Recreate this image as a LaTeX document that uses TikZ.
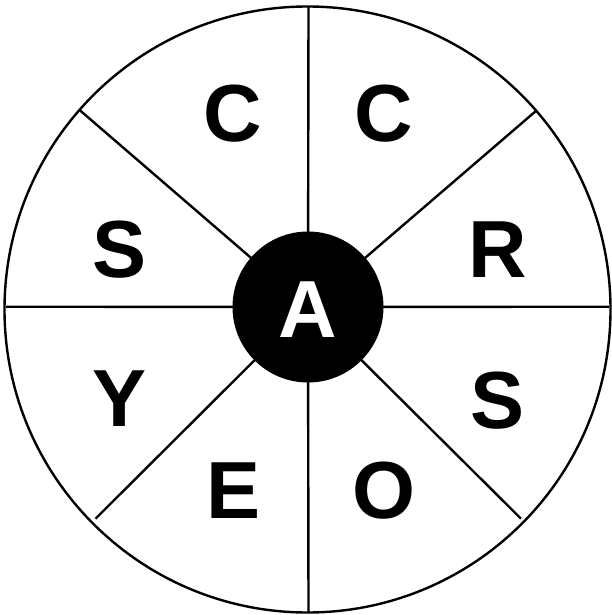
\documentclass[tikz,border=0pt]{standalone}
\usepackage{fontspec}
\setmainfont{Liberation Sans}
\begin{document}
\begin{tikzpicture}[x=1pt,y=-1pt,
  rim/.style={draw=black,line width=2.4pt},
  spoke/.style={draw=black,line width=2.4pt},
  hub/.style={circle,fill=black,draw=none,minimum size=151pt,inner sep=0pt},
  letter/.style={inner sep=0pt,font=\fontsize{81}{81}\selectfont\bfseries}]
\useasboundingbox (0,0) rectangle (611,615);
\fill[white] (0,0) rectangle (611,615);
\coordinate (o) at (307.5,309.5);
\draw[rim] (o) circle[radius=303];
\coordinate (p1) at (308.5,6.5);
\coordinate (p2) at (535.8,111.1);
\coordinate (p3) at (609,306.7);
\coordinate (p4) at (521,518.7);
\coordinate (p5) at (308.5,613);
\coordinate (p6) at (95.5,518.7);
\coordinate (p7) at (6,306.7);
\coordinate (p8) at (79.9,110.3);
\coordinate (c) at (308,307);
\foreach \i in {1,...,8} \draw[spoke] (c) -- (p\i);
\node[hub] (hubA) at (c) {};
\node[letter,text=white] (a) at (307.9,309.4) {A};
\node[letter] (l1) at (232.3,114) {C};
\node[letter] (l2) at (383.3,114) {C};
\node[letter] (l3) at (497.9,250) {R};
\node[letter] (l4) at (497.3,400.4) {S};
\node[letter] (l5) at (383.9,490.6) {O};
\node[letter] (l6) at (233.2,490.3) {E};
\node[letter] (l7) at (119.3,398.9) {Y};
\node[letter] (l8) at (119.2,250) {S};
\end{tikzpicture}
\end{document}
